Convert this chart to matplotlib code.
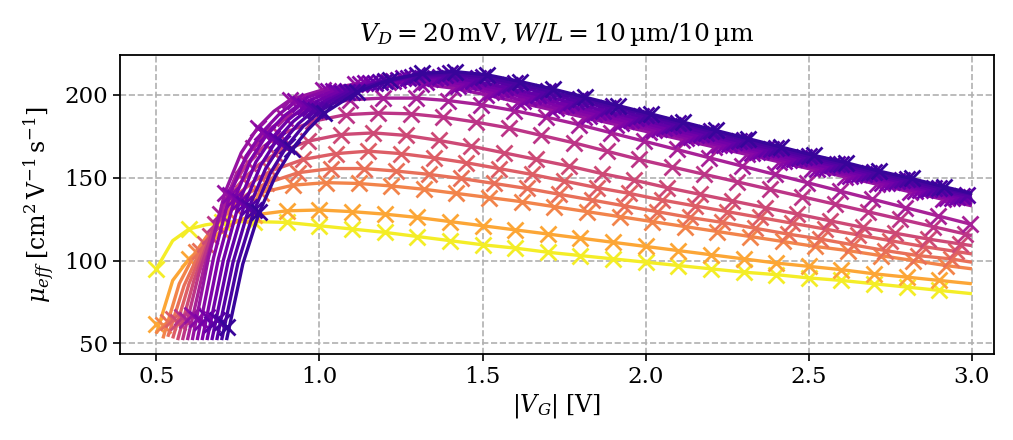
import numpy as np
import matplotlib
matplotlib.use('Agg')
import matplotlib.pyplot as plt

# font setup, wide serif text + matching maths font
plt.rcParams['font.family'] = ['DejaVu Serif']
plt.rcParams['mathtext.fontset'] = 'dejavuserif'
plt.rcParams['font.size'] = 16.5

# gate voltage where each measured sweep starts (first data point) [V]
vg_start = [0.50, 0.50, 0.52, 0.535, 0.55, 0.565, 0.58, 0.595,
            0.61, 0.625, 0.64, 0.655, 0.67, 0.685, 0.70, 0.715]

# offsets from the start voltage at which the values below are read
offsets = [0.0, 0.05, 0.1, 0.15, 0.2, 0.25, 0.3] + [round(0.4 + 0.1 * k, 2) for k in range(22)]

# first measured point of every sweep (sits above the fitted curve)
mu_first = [95, 62, 61, 63, 65, 63, 66, 64, 67, 65, 63, 66, 62, 64, 63, 60]

# effective mobility of each sweep [cm^2/Vs], yellow (bottom) -> indigo (top)
mu_yellow = [95, 112, 119, 121.5, 123, 123.5, 123.5, 123, 121, 119, 117, 114.5, 112, 109.5,
             107.5, 105, 103, 101, 99, 97, 95, 93, 91.5, 89.5, 88, 86, 84, 82, 80]
mu_orange = [56, 88, 101, 110, 118, 124, 127.5, 130, 130.5, 129.5, 128, 126, 123.5, 121,
             118.5, 116, 113.5, 111, 108.5, 106, 103.5, 101, 98.5, 96.5, 94.5, 92, 90, 88, 86]
mu_c3 = [53, 86, 105, 119, 129, 136, 141, 145.5, 147, 146.5, 145, 143, 140.5, 138, 135.5,
         132.5, 129.5, 126.5, 123.5, 120.5, 117.5, 114.5, 111.5, 108.5, 106, 103, 100, 97, 95]
mu_c4 = [54, 85, 106, 122, 133, 141, 146.5, 153, 155.5, 155.5, 154, 152, 149.5, 146.5, 143.5,
         140, 136.5, 133, 129.5, 126, 123, 119.5, 116, 113, 109.5, 106, 103, 101, 99]
mu_c5 = [53, 86, 110, 128, 140, 148, 154, 161, 164.5, 166, 164.5, 162, 159, 155.5, 152,
         148, 144, 140.5, 136.5, 133, 129.5, 126, 122.5, 119, 115.5, 112, 108.5, 105.5, 104]
mu_c6 = [52, 88, 115, 135, 149, 158, 164.5, 172, 176, 177, 175.5, 172.5, 169, 165, 161,
         157, 152.5, 148.5, 144, 140, 136, 132, 128, 124, 120, 116.5, 113, 110, 109]
mu_c7 = [52, 92, 122, 144, 159, 169, 176, 184, 188, 189, 188.5, 186.5, 183.5, 180, 175.5,
         171, 166, 161, 156.5, 152, 147.5, 143, 138.5, 134, 129.5, 125, 120.5, 116, 115]
mu_c8 = [52, 95, 128, 152, 168, 179, 186, 193.5, 197, 198, 198, 196.5, 194, 190.5, 186.5,
         182, 177, 172, 167, 162, 157, 152, 147, 142, 137, 132, 127, 122, 122]
mu_c9 = [52, 102, 141, 165, 180, 190, 197, 203, 206.5, 207.5, 206.5, 204, 200, 195.5, 191,
         186.5, 182, 177.5, 173, 168.5, 164, 159.5, 155, 150.5, 146, 141.5, 137, 133]
mu_c10 = [52, 101.5, 139.5, 163, 177.5, 188, 196, 202.5, 206.5, 208.5, 208, 205.5, 201.5, 196.5, 192,
          187.5, 183, 178.5, 174, 169.5, 165, 160, 155.5, 151, 146.5, 142, 137.5, 134]
mu_c11 = [52, 101, 137.5, 161, 176.5, 187, 194.5, 202, 207, 209, 209.5, 206.5, 202.5, 198, 193,
          188.5, 184, 179.5, 174.5, 170, 165.5, 160.5, 156, 151.5, 147, 142.5, 138, 135.5]
mu_c12 = [52, 100, 136, 159.5, 174, 185, 193, 201.5, 207, 210, 210, 207.5, 203.5, 199, 194,
          189.5, 185, 180, 175.5, 170.5, 166, 161, 156.5, 152, 147.5, 142.5, 138.5, 136.5]
mu_c13 = [52, 99.5, 134, 157.5, 173, 184, 192, 201, 207, 210, 211, 208.5, 204.5, 200, 195.5,
          190.5, 186, 181, 176.5, 171.5, 167, 162, 157.5, 152.5, 148, 143, 139, 137.5]
mu_c14 = [52, 99, 132.5, 155.5, 171, 182.5, 191, 201.5, 207.5, 211, 212, 210, 206, 201.5, 196.5,
          192, 187, 182, 177, 172, 167.5, 162.5, 158, 153, 148.5, 143.5, 139.5, 139]
mu_c15 = [52, 98.5, 130.5, 153, 169, 181, 190, 201.5, 208.5, 212, 213, 211, 207, 202.5, 197.5,
          193, 188, 183, 178, 173, 168, 163, 158.5, 153.5, 149, 144, 140]
mu_c16 = [52, 98, 129, 151, 167, 179, 189, 201.5, 209, 213, 214, 212, 208, 203.5, 198.5,
          193.5, 188.5, 183.5, 178.5, 173.5, 168.5, 163.5, 159, 154, 149.5, 144.5, 140.5]

mu_all = [mu_yellow, mu_orange, mu_c3, mu_c4, mu_c5, mu_c6, mu_c7, mu_c8,
          mu_c9, mu_c10, mu_c11, mu_c12, mu_c13, mu_c14, mu_c15, mu_c16]

# position of each sweep along the plasma colour map
color_vals = [0.97, 0.80, 0.70, 0.64, 0.58, 0.51, 0.44, 0.37,
              0.32, 0.28, 0.25, 0.22, 0.18, 0.15, 0.12, 0.08]

cmap = plt.get_cmap('plasma')

fig, ax = plt.subplots(figsize=(10.13, 4.40), dpi=100)
fig.subplots_adjust(left=0.118, right=0.981, top=0.875, bottom=0.195)

for x0, mu, first, cv in zip(vg_start, mu_all, mu_first, color_vals):
    off = np.array(offsets[:len(mu)])
    x = np.minimum(x0 + off, 3.0)
    y = np.array(mu, dtype=float)
    col = cmap(cv)

    # fitted curve
    ax.plot(x, y, '-', color=col, lw=2.4, solid_capstyle='butt')

    # measured points every 0.1 V
    is_mark = (np.round(off * 100).astype(int) % 10 == 0) & (x0 + off < 2.999)
    ym = y[is_mark].copy()
    ym[0] = first
    ax.plot(x[is_mark], ym, 'x', color=col, ms=11, mew=2.0, ls='none')

ax.set_xlim(0.387, 3.067)
ax.set_ylim(43.5, 224)
ax.set_xticks([0.5, 1.0, 1.5, 2.0, 2.5, 3.0])
ax.set_yticks([50, 100, 150, 200])
ax.grid(True, ls='--', color='#b0b0b0', lw=1.2)
ax.set_axisbelow(True)
for s in ax.spines.values():
    s.set_linewidth(1.3)
ax.tick_params(length=5, width=1.2, labelsize=16.5)

ax.set_title(r'$V_D = 20\,\mathrm{mV}, W/L = 10\,\mathrm{µm}/10\,\mathrm{µm}$', fontsize=18, pad=10)
ax.set_xlabel(r'$|V_G|\;[\mathrm{V}]$', fontsize=17, labelpad=3)
ax.set_ylabel(r'$\mu_{eff}\;\left[\mathrm{cm^2\,V^{-1}\,s^{-1}}\right]$', fontsize=17, labelpad=6)

plt.savefig('out.png', dpi=100)
